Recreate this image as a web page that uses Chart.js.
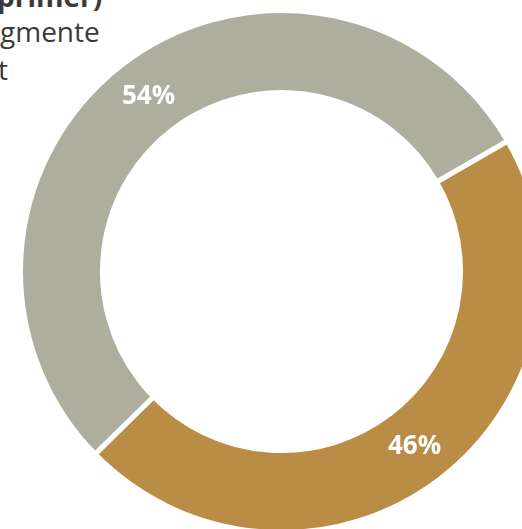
<!DOCTYPE html>
<html>
<head>
<meta charset="utf-8">
<script src="https://cdn.jsdelivr.net/npm/chart.js@4"></script>
<style>
    html, body { margin: 0; padding: 0; background: #fff; }
    body { width: 522px; height: 529px; overflow: hidden; position: relative; }
    .txt { position: absolute; left: 0; font-family: "Open Sans", sans-serif; font-size: 28px; line-height: 28px; color: #3a3a3a; white-space: nowrap; }
    .bold { font-weight: bold; }
    #wrap { position: absolute; left: 18px; top: 7.5px; width: 527px; height: 527px; }
</style>
</head>
<body>
<div class="txt bold" style="top:-18px; left:-3px;">primer)</div>
<div class="txt" style="top:17px;">gmente</div>
<div class="txt" style="top:55px; left:-2px;">t</div>
<div id="wrap"><canvas id="myChart"></canvas></div>
<script>
const labels = ['B', 'A'];
const values = [46, 54];
const colors = ['#B98D45', '#AEAE9F'];

// etiquetas de porcentaje en el centro de cada arco
const pctLabels = {
    id: 'pctLabels',
    afterDatasetsDraw(chart) {
        const ctx = chart.ctx;
        const meta = chart.getDatasetMeta(0);
        const total = values.reduce((a, b) => a + b, 0);
        ctx.save();
        ctx.fillStyle = '#ffffff';
        ctx.font = 'bold 26px "Open Sans", sans-serif';
        ctx.textAlign = 'center';
        ctx.textBaseline = 'middle';
        meta.data.forEach((arc, i) => {
            const p = arc.tooltipPosition();
            ctx.fillText(Math.round(values[i] / total * 100) + '%', p.x, p.y);
        });
        ctx.restore();
    }
};

new Chart(document.getElementById('myChart').getContext('2d'), {
    type: 'doughnut',
    data: {
        labels: labels,
        datasets: [{
            data: values,
            backgroundColor: colors,
            borderColor: '#ffffff',
            borderWidth: 5,
        }]
    },
    options: {
        responsive: true,
        maintainAspectRatio: false,
        animation: false,
        rotation: 60,
        cutout: '68.6%',
        layout: { padding: 0 },
        plugins: {
            legend: { display: false },
            tooltip: { enabled: false },
        }
    },
    plugins: [pctLabels]
});
</script>
</body>
</html>
